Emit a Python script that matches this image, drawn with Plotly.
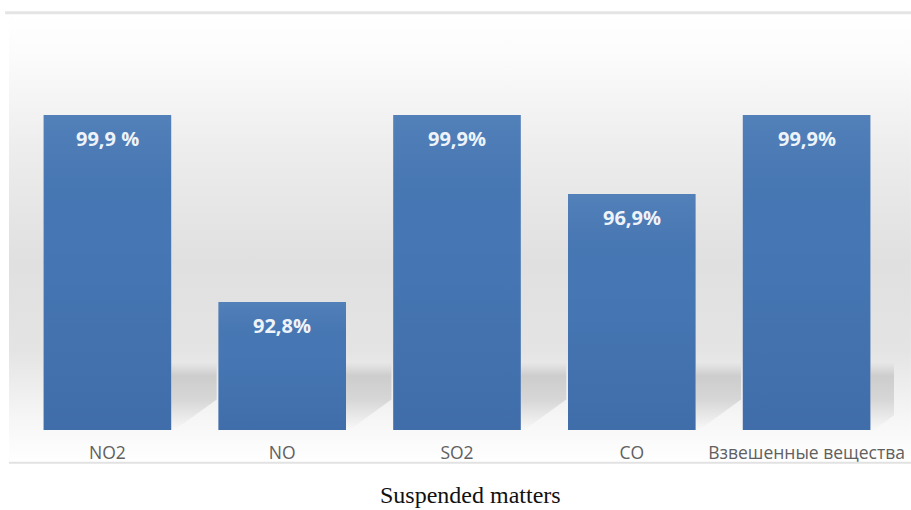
import base64
import plotly.graph_objects as go

# Pollutant categories and removal efficiency (%)
categories = ["NO2", "NO", "SO2", "CO", "Взвешенные вещества"]
efficiency = [99.9, 92.8, 99.9, 96.9, 99.9]
label_suffix = [" %", "%", "%", "%", "%"]
chart_title = "Suspended matters"

value_labels = [f"{v:.1f}".replace(".", ",") + s for v, s in zip(efficiency, label_suffix)]

Y_MIN, Y_MAX = 87.94, 103.73
BAR_GAP = 0.27
HALF_W = (1 - BAR_GAP) / 2
SHADOW_TOP = 90.5

# soft vertical background gradient for the chart area
bg_svg = """<svg xmlns='http://www.w3.org/2000/svg' width='100' height='100' preserveAspectRatio='none'>
<defs><linearGradient id='g' x1='0' y1='0' x2='0' y2='1'>
<stop offset='0' stop-color='#ffffff'/>
<stop offset='0.1' stop-color='#fbfbfb'/>
<stop offset='0.3' stop-color='#ededed'/>
<stop offset='0.55' stop-color='#e0e0e0'/>
<stop offset='0.75' stop-color='#e4e4e4'/>
<stop offset='0.9' stop-color='#f6f6f6'/>
<stop offset='1' stop-color='#ffffff'/>
</linearGradient></defs>
<rect width='100' height='100' fill='url(#g)'/></svg>"""
bg_uri = "data:image/svg+xml;base64," + base64.b64encode(bg_svg.encode()).decode()

fig = go.Figure()

# floor shadows cast to the right of each bar
for i, _ in enumerate(categories):
    x0 = i + HALF_W
    fig.add_trace(go.Scatter(
        x=[x0, x0 + 0.26, x0 + 0.26, x0 + 0.02, x0, x0],
        y=[SHADOW_TOP, SHADOW_TOP, 89.1, Y_MIN, Y_MIN, SHADOW_TOP],
        mode="lines", line=dict(width=0), fill="toself",
        fillgradient=dict(type="vertical", start=Y_MIN, stop=SHADOW_TOP,
                          colorscale=[[0, "rgba(120,120,120,0.0)"],
                                      [0.45, "rgba(120,120,120,0.22)"],
                                      [0.8, "rgba(120,120,120,0.26)"],
                                      [1, "rgba(120,120,120,0.0)"]]),
        hoverinfo="skip", showlegend=False,
    ))

fig.add_trace(go.Bar(
    x=list(range(len(categories))), y=efficiency,
    marker=dict(color="#4677b4", line=dict(width=0)),
    width=1 - BAR_GAP, showlegend=False, hoverinfo="skip",
))

# subtle top-to-bottom shading on each bar
for i, v in enumerate(efficiency):
    fig.add_trace(go.Scatter(
        x=[i - HALF_W, i + HALF_W, i + HALF_W, i - HALF_W, i - HALF_W],
        y=[Y_MIN, Y_MIN, v, v, Y_MIN],
        mode="lines", line=dict(width=0), fill="toself",
        fillgradient=dict(type="vertical", start=Y_MIN, stop=v,
                          colorscale=[[0, "rgba(20,40,90,0.12)"],
                                      [0.6, "rgba(20,40,90,0.0)"],
                                      [1, "rgba(255,255,255,0.07)"]]),
        hoverinfo="skip", showlegend=False,
    ))

for i, (v, lab) in enumerate(zip(efficiency, value_labels)):
    fig.add_annotation(x=i, y=v, text=f"<b>{lab}</b>", showarrow=False,
                       yanchor="middle", yshift=-24,
                       font=dict(family="Open Sans", size=20, color="#eef3fa"))

fig.add_annotation(x=0.516, y=-0.156, xref="paper", yref="paper", yanchor="middle",
                   text=chart_title, showarrow=False,
                   font=dict(family="Liberation Serif", size=24, color="#111111"))

fig.update_layout(
    width=911, height=510,
    margin=dict(l=20, r=17, t=14, b=80, autoexpand=False),
    paper_bgcolor="white", plot_bgcolor="rgba(0,0,0,0)",
    bargap=BAR_GAP,
    images=[dict(source=bg_uri, xref="paper", yref="paper", x=-0.0126, y=1,
                 sizex=1.032, sizey=1.079, sizing="stretch", layer="below",
                 xanchor="left", yanchor="top")],
    shapes=[
        dict(type="line", xref="paper", yref="paper", x0=-0.017, x1=1.02, y0=1.003, y1=1.003,
             line=dict(color="#e4e4e4", width=3)),
        dict(type="line", xref="paper", yref="paper", x0=-0.0126, x1=1.02, y0=-0.079, y1=-0.079,
             line=dict(color="#e2e2e2", width=2)),
    ],
    xaxis=dict(range=[-0.5, len(categories) - 0.5], tickmode="array",
               tickvals=list(range(len(categories))), ticktext=categories,
               showgrid=False, zeroline=False, showline=False, ticks="",
               ticklabelstandoff=10, automargin=False,
               tickfont=dict(family="Open Sans", size=17.5, color="#606060")),
    yaxis=dict(range=[Y_MIN, Y_MAX], visible=False, automargin=False),
)

fig.write_html("out.html")
